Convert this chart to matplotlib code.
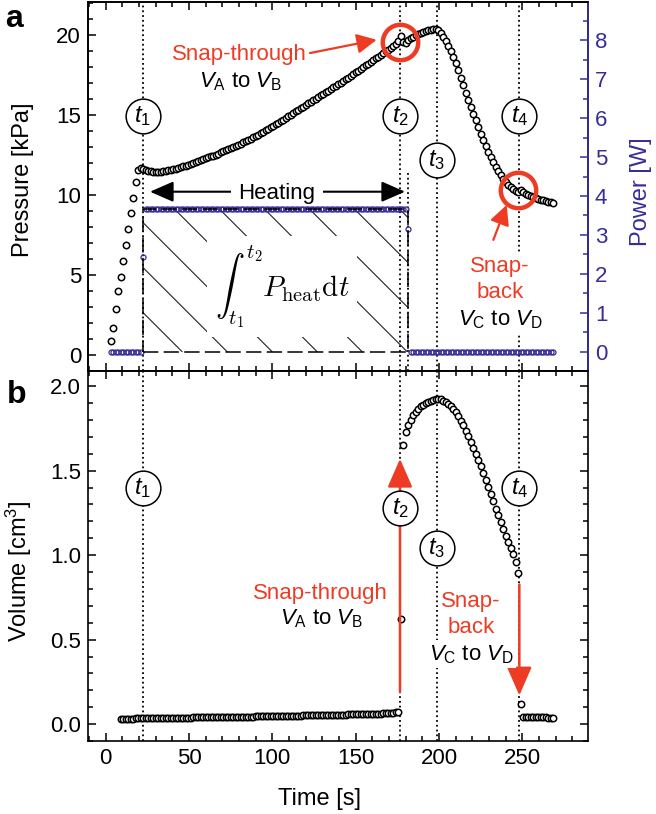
import numpy as np
import matplotlib
matplotlib.use('Agg')
import matplotlib.pyplot as plt
from matplotlib.patches import Rectangle
from matplotlib.lines import Line2D
from matplotlib.transforms import IdentityTransform
from matplotlib.ticker import MultipleLocator

plt.rcParams['font.family'] = ['Liberation Sans', 'DejaVu Sans']
plt.rcParams['mathtext.fontset'] = 'custom'
plt.rcParams['mathtext.rm'] = 'Liberation Sans'
plt.rcParams['mathtext.it'] = 'Liberation Sans:italic'
plt.rcParams['mathtext.bf'] = 'Liberation Sans:bold'

RED = '#ee3b24'
BLUE = '#382d96'

# sample instants [s], one every 1.5 s
time_s = np.arange(3.0, 269.0, 1.5)

pressure_kpa = [
    0.9, 1.7, 2.9, 4.0, 4.9, 5.9, 6.9, 7.9, 8.9, 9.8, 10.8, 11.55, 11.7, 11.62, 11.56, 11.52,
    11.48, 11.46, 11.45, 11.45, 11.46, 11.48, 11.5, 11.53, 11.56, 11.6, 11.64, 11.68, 11.73,
    11.78, 11.83, 11.88, 11.93, 11.98, 12.04, 12.1, 12.16, 12.22, 12.28, 12.34, 12.4, 12.46,
    12.52, 12.58, 12.65, 12.72, 12.78, 12.85, 12.92, 12.99, 13.06, 13.13, 13.2, 13.28, 13.36,
    13.44, 13.52, 13.6, 13.68, 13.77, 13.86, 13.95, 14.04, 14.13, 14.22, 14.31, 14.41, 14.51,
    14.61, 14.71, 14.81, 14.91, 15.01, 15.11, 15.21, 15.31, 15.41, 15.51, 15.61, 15.71, 15.81,
    15.91, 16.01, 16.11, 16.21, 16.31, 16.41, 16.51, 16.61, 16.71, 16.81, 16.91, 17.01, 17.11,
    17.21, 17.32, 17.43, 17.54, 17.65, 17.76, 17.87, 17.98, 18.09, 18.2, 18.31, 18.42, 18.53,
    18.64, 18.75, 18.86, 18.97, 19.08, 19.2, 19.32, 19.45, 19.6, 19.95, 19.55, 19.5, 19.65,
    19.78, 19.88, 19.97, 20.05, 20.12, 20.18, 20.24, 20.29, 20.33, 20.36, 20.37, 20.3, 20.12,
    19.88, 19.6, 19.3, 18.98, 18.63, 18.24, 17.8, 17.32, 16.84, 16.37, 15.92, 15.5, 15.08,
    14.66, 14.24, 13.82, 13.42, 13.04, 12.68, 12.35, 12.04, 11.75, 11.48, 11.23, 11.0, 10.8,
    10.62, 10.47, 10.35, 10.25, 10.16, 10.3, 10.18, 10.08, 10.0, 9.94, 9.88, 9.82, 9.76, 9.71,
    9.66, 9.61, 9.57, 9.53, 9.49,
]

volume_cm3 = [
    0.030, 0.031, 0.032, 0.032, 0.033, 0.033, 0.034, 0.034, 0.034, 0.035, 0.035, 0.035, 0.035,
    0.036, 0.036,
    0.036, 0.036, 0.037, 0.037, 0.037, 0.037, 0.038, 0.038, 0.038, 0.038, 0.039, 0.039, 0.039,
    0.039, 0.040, 0.040, 0.040, 0.040, 0.041, 0.041,
    0.041, 0.041, 0.041, 0.042, 0.042, 0.042, 0.042, 0.043, 0.043, 0.043, 0.043, 0.044, 0.044,
    0.044, 0.044, 0.045, 0.045, 0.045, 0.045, 0.046, 0.046, 0.046, 0.046, 0.047, 0.047, 0.047,
    0.047, 0.048, 0.048, 0.048, 0.048, 0.049, 0.049, 0.049, 0.050, 0.050, 0.050, 0.050, 0.051,
    0.051, 0.051, 0.052, 0.052, 0.052, 0.053, 0.053, 0.053, 0.054, 0.054, 0.054, 0.055, 0.055,
    0.055, 0.056, 0.056, 0.056, 0.057, 0.057, 0.057, 0.058,
    0.058, 0.058, 0.059, 0.059, 0.060, 0.060, 0.061, 0.061, 0.062, 0.062, 0.063, 0.064, 0.065,
    0.066, 0.067, 0.069, 0.073,
    0.62, 1.65, 1.73, 1.77, 1.80, 1.83, 1.85, 1.865, 1.88, 1.89, 1.90, 1.908, 1.915, 1.92,
    1.924, 1.925, 1.922, 1.915, 1.906, 1.895, 1.881, 1.865, 1.845, 1.822, 1.797, 1.768, 1.736,
    1.703, 1.669, 1.635, 1.600, 1.564, 1.526, 1.487, 1.447, 1.405, 1.362, 1.318, 1.276, 1.236,
    1.196, 1.156, 1.116, 1.077, 1.040, 1.005, 0.962, 0.895,
    0.12, 0.045, 0.044, 0.043, 0.043, 0.042, 0.042, 0.041, 0.041, 0.040, 0.040, 0.039, 0.039,
    0.038,
]

power_w = [0.0] * 13 + [2.44] + [3.66] * 105 + [3.16] + [0.0] * 58

t_marks = {'1': 22.2, '2': 176.6, '3': 198.6, '4': 248.2}
t_heat_end = 181.6
p_heat = 3.66

fig = plt.figure(figsize=(6.56, 8.14), dpi=100)
W, H = 656.0, 814.0
ax1 = fig.add_axes([88 / W, 1 - 371 / H, 500 / W, 369 / H])
ax3 = fig.add_axes([88 / W, 1 - 741 / H, 500 / W, 370 / H], sharex=ax1)
ax2 = ax1.twinx()

# ---- data
ax1.plot(time_s, pressure_kpa, 'o', ms=4.6, mfc='white', mec='black', mew=1.1, zorder=3)
ax2.plot(time_s[:len(power_w)], power_w, 'o', ms=3.6, mfc='none', mec=BLUE, mew=0.9, zorder=2)
ax3.plot(time_s[len(time_s) - len(volume_cm3):], volume_cm3, 'o', ms=4.6, mfc='white',
         mec='black', mew=1.1, zorder=3)

# ---- axes
ax1.set_xlim(-10.6, 289.4)
ax1.set_ylim(-1.0, 22.05)
ax2.set_ylim(-0.5, 8.99)
ax3.set_ylim(-0.1, 2.09)

ax1.xaxis.set_major_locator(MultipleLocator(50))
ax1.xaxis.set_minor_locator(MultipleLocator(10))
ax1.yaxis.set_major_locator(MultipleLocator(5))
ax1.yaxis.set_minor_locator(MultipleLocator(1))
ax2.yaxis.set_major_locator(MultipleLocator(1))
ax2.yaxis.set_minor_locator(MultipleLocator(0.5))
ax3.yaxis.set_major_locator(MultipleLocator(0.5))
ax3.yaxis.set_minor_locator(MultipleLocator(0.1))

for ax in (ax1, ax3):
    ax.tick_params(which='both', direction='in', top=True, bottom=True, width=1.1,
                   labelsize=16, pad=5)
    ax.tick_params(which='major', length=6)
    ax.tick_params(which='minor', length=3.5)
    for s in ax.spines.values():
        s.set_linewidth(1.2)
ax1.tick_params(labelbottom=False, right=False)
ax3.tick_params(which='both', right=True)
ax2.tick_params(which='both', direction='in', colors=BLUE, width=1.1, labelsize=16, pad=5)
ax2.tick_params(which='major', length=6)
ax2.tick_params(which='minor', length=3.5)
for s in ax2.spines.values():
    s.set_linewidth(1.2)
ax2.spines['right'].set_color(BLUE)

ax1.set_ylabel('Pressure [kPa]', fontsize=17)
ax2.set_ylabel('Power [W]', fontsize=17, color=BLUE)
ax3.set_ylabel('Volume [cm$^3$]', fontsize=17)
ax3.set_xlabel('Time [s]', fontsize=17)
ax1.yaxis.set_label_coords(-0.108, 0.518)
ax3.yaxis.set_label_coords(-0.108, 0.459)
ax2.yaxis.set_label_coords(1.085, 0.485)
ax3.xaxis.set_label_coords(0.464, -0.128)

fig.text(5 / W, 1 - 27.3 / H, 'a', fontsize=23, fontweight='bold', ha='left', va='baseline')
fig.text(7 / W, 1 - 403.3 / H, 'b', fontsize=23, fontweight='bold', ha='left', va='baseline')

# ---- time markers
dot = dict(color='black', ls=':', lw=1.3, zorder=1)
for tm in t_marks.values():
    ax1.axvline(tm, **dot)
    ax3.axvline(tm, **dot)
ax1.vlines(t_heat_end, -1.0, 11.4, **dot)


def tag(ax, x, y, k):
    ax.plot(x, y, 'o', ms=25, mfc='white', mec='black', mew=1.1, zorder=6)
    ax.text(x, y, r'$t_%s$' % k, fontsize=17, ha='center', va='center', zorder=7)


for k, y in zip('1234', (14.9, 14.9, 12.2, 14.9)):
    tag(ax1, t_marks[k], y, k)
for k, y in zip('1234', (1.40, 1.28, 1.04, 1.40)):
    tag(ax3, t_marks[k], y, k)

# ---- heating area
rect = Rectangle((t_marks['1'], 0), t_heat_end - t_marks['1'], p_heat, fill=False,
                 ec='black', lw=1.1, ls=(0, (10, 3.5)), zorder=3)
ax2.add_patch(rect)
x0, y0 = ax2.transData.transform((t_marks['1'], 0))
x1, y1 = ax2.transData.transform((t_heat_end, p_heat))
h = y1 - y0
xa = x0 + 32 - 45 * int(h / 45 + 1)
while xa < x1:
    ln = Line2D([xa, xa + h], [y1, y0], transform=IdentityTransform(), color='#222222',
                lw=0.8, zorder=1)
    ax2.add_line(ln)
    ln.set_clip_path(rect)
    xa += 45
ax2.text(105.8, 1.67, r'$\int_{t_1}^{t_2}P_{\mathrm{heat}}\mathrm{d}t$', math_fontfamily='cm',
         fontsize=21, ha='center', va='center', zorder=2,
         bbox=dict(boxstyle='square,pad=0.25', fc='white', ec='none'))

ax1.annotate('', xy=(179.6, 10.2), xytext=(26.6, 10.2),
             arrowprops=dict(arrowstyle='<|-|>,head_length=0.8,head_width=0.35', color='black',
                             lw=1.5, mutation_scale=18, shrinkA=0, shrinkB=0), zorder=2)
ax1.text(102.8, 9.75, 'Heating', fontsize=16, ha='center', va='baseline', zorder=3,
         bbox=dict(boxstyle='square,pad=0.35', fc='white', ec='none'))

# ---- snap annotations, top
ax1.plot(176.6, 19.58, 'o', ms=25.5, mfc='none', mec=RED, mew=3.2, zorder=5)
ax1.plot(247.6, 10.31, 'o', ms=25.5, mfc='none', mec=RED, mew=3.2, zorder=5)
red_arrow = dict(arrowstyle='-|>,head_length=0.6,head_width=0.3', color=RED, lw=1.6,
                 mutation_scale=20, shrinkA=0, shrinkB=0)
ax1.annotate('', xy=(162.6, 19.69), xytext=(122.6, 18.86), arrowprops=red_arrow, zorder=5)
ax1.annotate('', xy=(240.6, 9.375), xytext=(232.6, 7.19), arrowprops=red_arrow, zorder=5)
ax1.text(80.0, 18.44, 'Snap-through', color=RED, fontsize=16, ha='center', va='baseline')
ax1.text(81.0, 16.73, r'$V_{\mathrm{A}}$ to $V_{\mathrm{B}}$', fontsize=16, ha='center',
         va='baseline')
wb = dict(boxstyle='square,pad=0.12', fc='white', ec='none')
ax1.text(236.6, 5.2, 'Snap-', color=RED, fontsize=16, ha='center', va='baseline', bbox=wb,
         zorder=4)
ax1.text(236.6, 3.58, 'back', color=RED, fontsize=16, ha='center', va='baseline', bbox=wb,
         zorder=4)
ax1.text(236.6, 1.875, r'$V_{\mathrm{C}}$ to $V_{\mathrm{D}}$', fontsize=16, ha='center',
         va='baseline', bbox=wb, zorder=4)

# ---- snap annotations, bottom
big_red = dict(arrowstyle='-|>,head_length=0.8,head_width=0.35', color=RED, lw=1.8,
               mutation_scale=22, shrinkA=0, shrinkB=0)
ax3.annotate('', xy=(t_marks['2'], 1.57), xytext=(t_marks['2'], 0.19), arrowprops=big_red,
             zorder=4)
ax3.annotate('', xy=(t_marks['4'], 0.17), xytext=(t_marks['4'], 0.826), arrowprops=big_red,
             zorder=4)
ax3.text(128.9, 0.741, 'Snap-through', color=RED, fontsize=16, ha='center', va='baseline')
ax3.text(129.8, 0.588, r'$V_{\mathrm{A}}$ to $V_{\mathrm{B}}$', fontsize=16, ha='center',
         va='baseline')
ax3.text(219.2, 0.693, 'Snap-', color=RED, fontsize=16, ha='center', va='baseline', bbox=wb,
         zorder=4)
ax3.text(219.2, 0.539, 'back', color=RED, fontsize=16, ha='center', va='baseline', bbox=wb,
         zorder=4)
ax3.text(219.2, 0.380, r'$V_{\mathrm{C}}$ to $V_{\mathrm{D}}$', fontsize=16, ha='center',
         va='baseline', bbox=wb, zorder=4)

fig.savefig('out.png', dpi=100)
